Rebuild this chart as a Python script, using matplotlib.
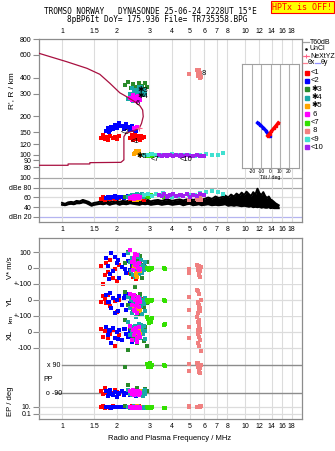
import numpy as np
import matplotlib.pyplot as plt
from matplotlib.lines import Line2D

plt.rcParams['font.family'] = ['Liberation Sans', 'DejaVu Sans']

## frequency axis
freq_ticks = [1, 1.5, 2, 3, 4, 5, 6, 7, 8, 10, 12, 14, 16, 18]
freq_labels = ['1', '1.5', '2', '3', '4', '5', '6', '7', '8', '10', '12', '14', '16', '18']
fmin, fmax = 0.749, 20.5

## N(h) profile
prof_f = [0.75, 1.06, 1.37, 1.61, 1.83, 2.07, 2.26, 2.50, 2.67, 2.76, 2.78, 2.72, 2.64, 2.45, 2.24, 2.18, 2.18, 2.18, 2.10, 1.42, 1.42, 1.08, 1.08, 0.75]
prof_h = [618, 532, 472, 424, 360, 304, 283, 259, 240, 223, 198, 175, 160, 153, 147, 138, 110, 91, 87, 86.5, 84.5, 84.5, 82.5, 82.5]

## echo groups: frequency / MHz, virtual height / km, amplitude / dB
red_f = [1.63, 1.67, 1.71, 1.75, 1.79, 1.84, 1.90, 1.95, 2.00, 2.05, 2.36, 2.41, 2.45, 2.49, 2.52, 2.55, 2.58, 2.62, 2.66, 2.70, 2.74, 2.80]
red_h = [136, 141, 133, 138, 131, 140, 135, 137, 132, 139, 134, 142, 130, 138, 145, 133, 140, 136, 131, 139, 134, 137]
red_a = [57, 60, 55, 58, 61, 56, 59, 57, 60, 58, 56, 59, 57, 61, 55, 58, 60, 56, 59, 57, 58, 55]
red_v = [14, -102, -44, 31, -23, 50, -60, -5, -80, 20, -30, 10, -55, 18, -12, -70, 5, -40, 25, -20, -8, 2]
red_yl = [-10, 25, 5, -20, 31, -35, 12, -5, -75, 0, -30, 10, -15, 20, -40, 5, -60, 15, -25, -8, 8, -18]
red_xl = [20, -30, 5, 31, -37, -10, 15, -87, 0, -20, 25, -40, 10, -15, 30, -5, -25, 12, -35, 5, -10, 18]
red_pp = [-75, -95, -60, -88, -100, -80, -92, -70, -85, -98, -90, -78, -95, -84, -70, -99, -88, -76, -93, -82, -90, -86]
red_ep = [10, 15, 7, 12, 10, 6, 18, 10, 8, 13, 10, 16, 7, 10, 12, 6, 10, 14, 8, 10, 12, 9]

blue_f = [1.74, 1.78, 1.82, 1.86, 1.90, 1.95, 2.00, 2.06, 2.12, 2.18, 2.24, 2.30, 2.36, 2.42, 2.48, 2.55, 1.80, 2.02, 2.20, 2.40]
blue_h = [152, 160, 156, 165, 158, 170, 162, 175, 166, 158, 172, 163, 155, 168, 160, 153, 150, 168, 161, 157]
blue_a = [58, 61, 59, 62, 60, 63, 58, 61, 62, 59, 60, 63, 61, 58, 62, 60, 59, 61, 62, 60]
blue_v = [60, 14, -40, 95, -20, 69, 30, -60, 5, 80, -30, 45, -10, 20, -45, 10, -70, 50, -5, 35]
blue_yl = [30, -10, 44, -50, 15, -81, 0, 25, -30, 10, -60, 35, -20, 5, -40, 20, -15, -70, 40, -5]
blue_xl = [31, -20, 10, -69, 25, -40, 0, 15, -50, 20, -10, -30, 5, -60, 28, -15, 8, -45, 18, -25]
blue_pp = [-80, -110, -71, -95, -100, -85, -116, -90, -78, -105, -92, -88, -100, -75, -95, -110, -84, -98, -90, -102]
blue_ep = [8, 12, 10, 7, 11, 9, 13, 10, 8, 12, 10, 9, 11, 7, 10, 12, 9, 10, 11, 8]

dg_f = [2.22, 2.30, 2.38, 2.44, 2.50, 2.56, 2.62, 2.68, 2.74, 2.80, 2.86, 2.92]
dg_h = [350, 370, 330, 355, 340, 318, 362, 335, 345, 325, 360, 338]
dg_a = [60, 62, 59, 63, 61, 64, 60, 62, 65, 61, 63, 60]
dg_v = [31, 100, -40, 10, -119, 55, -15, 75, -60, 20, -5, 40]
dg_yl = [50, -30, 10, -60, 25, -10, -85, 35, 0, -45, 15, -20]
dg_xl = [75, -112, 20, -40, 0, -70, 45, -20, 10, -55, 30, -90]
dg_pp = [77, -38, -85, -70, -95, -60, -88, -100, -75, -92, -65, -80]
dg_ep = [14, 10, 8, 12, 10, 18, 9, 11, 10, 13, 8, 10]

teal_f = [2.30, 2.34, 2.38, 2.42, 2.46, 2.50, 2.53, 2.56, 2.59, 2.62, 2.65, 2.68, 2.71, 2.74, 2.77, 2.80, 2.83, 2.86, 2.44, 2.60, 2.70, 2.52]
teal_h = [270, 300, 285, 330, 310, 295, 320, 305, 290, 335, 315, 300, 325, 308, 292, 318, 305, 298, 262, 280, 340, 312]
teal_a = [60, 64, 62, 66, 63, 65, 61, 67, 64, 62, 66, 63, 65, 68, 62, 64, 66, 63, 61, 65, 64, 62]
teal_v = [94, 40, -20, 60, 10, -56, 30, -10, 70, 0, -40, 20, 50, -30, 15, -15, 35, 5, -45, 80, -25, 25]
teal_yl = [19, -50, 0, -80, 10, -30, -106, -20, 5, -60, -10, 15, -40, -90, 0, -25, -70, 10, -15, -55, -35, 8]
teal_xl = [62, -20, 30, 0, -50, 40, 10, -30, 20, -10, 50, -40, 0, 25, -15, 35, -45, 5, 15, -25, 45, -5]
teal_pp = [-70, -95, -85, -100, -78, -90, -105, -82, -93, -75, -88, -98, -80, -92, -110, -86, -95, -72, -90, -84, -100, -88]
teal_ep = [10, 6, 12, 9, 14, 8, 10, 5, 11, 9, 13, 7, 10, 12, 8, 6, 10, 11, 9, 14, 7, 10]

or_f = [2.48, 2.53, 2.58, 2.62, 2.66, 2.55, 2.50, 2.64]
or_h = [101, 106, 103, 107, 100, 104, 102, 105]
or_a = [55, 57, 54, 56, 58, 55, 56, 57]
or_v = [5, -30, -55, 0, -20, -45, 10, -10]
or_yl = [-40, -60, -75, -50, -65, -45, -55, -70]
or_xl = [10, -5, 0, 15, -10, 5, -8, 12]
or_pp = [-75, -95, -85, -100, -80, -90, -88, -78]
or_ep = [12, 10, 14, 9, 11, 10, 13, 10]

mg_f = [2.36, 2.40, 2.44, 2.48, 2.52, 2.56, 2.60, 2.64, 2.68, 2.46, 2.58, 2.50, 2.62, 2.54]
mg_h = [275, 265, 290, 270, 282, 260, 288, 272, 266, 160, 163, 280, 278, 262]
mg_a = [58, 62, 60, 64, 59, 61, 63, 60, 62, 57, 61, 63, 59, 60]
mg_v = [112, 40, -12, 60, 20, 80, 0, 30, -5, 50, 10, 90, -10, 25]
mg_yl = [40, -30, 10, -60, 0, -80, 20, -45, -10, 30, -20, -70, 5, -35]
mg_xl = [40, -50, 10, -20, 20, -60, 0, 30, -30, 15, -40, 5, -10, 25]
mg_pp = [-80, -95, -70, -100, -85, -90, -75, -105, -88, -92, -78, -96, -84, -90]
mg_ep = [8, 6, 9, 7, 5, 8, 6, 9, 7, 6, 8, 5, 7, 6]

lm_f = [2.92, 2.96, 3.00, 3.04, 3.08, 3.12, 3.62, 3.64]
lm_h = [98, 100, 97, 99, 101, 98, 100, 99]
lm_a = [63, 65, 62, 64, 66, 63, 60, 61]
lm_v = [0, -5, -12, 0, -8, 2, 0, -4]
lm_yl = [0, -10, -5, 2, -8, 0, 0, -6]
lm_xl = [94, 80, 56, 70, 65, 88, 44, 50]
lm_pp = [95, 80, 88, 100, 75, 90, 92, 85]
lm_ep = [8, 6, 7, 9, 6, 8, 5, 6]

sm_f = [4.95, 4.97, 5.50, 5.55, 5.60, 5.65, 5.70, 5.53, 5.58, 5.62, 5.68, 5.52, 5.57, 5.63, 5.75, 5.60]
sm_h = [430, 425, 460, 445, 455, 435, 420, 410, 440, 430, 400, 450, 415, 425, 405, 438]
sm_a = [54, 55, 57, 59, 56, 60, 58, 55, 57, 59, 56, 58, 60, 57, 55, 58]
sm_v = [-5, -30, 19, 10, 15, -20, 5, -10, -45, 0, -56, 12, -15, -35, 8, -25]
sm_yl = [-60, 20, 62, -10, -40, -60, -70, -81, 40, -30, -50, 55, -20, -65, 0, -45]
sm_xl = [-40, 30, 94, 60, 40, 20, 0, -10, -30, 75, -50, -70, 10, -90, -119, 50]
sm_pp = [50, 95, 103, 80, 60, 90, 70, 100, 45, 85, 38, 95, 75, 65, 88, 55]
sm_ep = [10, 14, 8, 12, 10, 16, 9, 11, 13, 10, 8, 12, 10, 9, 14, 11]

tq_f = [2.82, 2.95, 3.10, 3.25, 3.40, 3.55, 3.75, 4.00, 4.30, 4.60, 4.95, 5.30, 5.70, 6.10, 6.60, 7.10, 7.60]
tq_h = [100, 99, 101, 100, 98, 100, 99, 101, 100, 99, 100, 98, 100, 101, 99, 100, 103]
tq_a = [66, 68, 64, 67, 65, 69, 63, 62, 64, 63, 65, 66, 70, 72, 74, 71, 68]

pu_f = [3.40, 3.50, 3.62, 3.75, 3.90, 4.05, 4.20, 4.40, 4.60, 4.80, 5.00, 5.20, 5.45, 5.70, 5.95, 3.80, 4.50]
pu_h = [99, 98, 100, 97, 99, 98, 100, 97, 98, 99, 97, 98, 99, 98, 97, 100, 99]
pu_a = [66, 64, 68, 62, 65, 67, 63, 66, 64, 68, 62, 65, 63, 67, 66, 64, 65]

## background noise (dB)
noise_f = [1.00, 1.04, 1.08, 1.12, 1.16, 1.20, 1.25, 1.30, 1.35, 1.40, 1.45, 1.50,
           1.56, 1.62, 1.68, 1.75, 1.82, 1.90, 1.98, 2.06,
           2.15, 2.25, 2.35, 2.45, 2.55, 2.65, 2.75, 2.85, 2.95, 3.05,
           3.2, 3.35, 3.5, 3.65, 3.8,
           4.0, 4.2, 4.4, 4.6, 4.8, 5.0, 5.2, 5.4, 5.6, 5.8, 6.0,
           6.3, 6.6, 6.9, 7.2, 7.5, 7.8, 8.1, 8.4, 8.7, 9.0, 9.3, 9.6, 9.9,
           10.2, 10.5, 10.8, 11.1, 11.4, 11.7, 12.0, 12.3, 12.6, 12.9, 13.2, 13.5, 13.8, 14.1, 14.4, 14.7, 15.0, 15.3]
noise_hi = [49, 47, 50, 51, 50, 53, 52, 55, 53, 51, 47, 49,
            50, 52, 51, 53, 50, 52, 54, 51,
            53, 52, 55, 53, 54, 52, 56, 53, 55, 52,
            54, 55, 53, 55, 56,
            53, 55, 56, 54, 56, 57, 55, 56, 58, 56, 57,
            60, 57, 62, 59, 61, 64, 60, 66, 62, 68, 64, 70, 65,
            72, 67, 63, 71, 66, 78, 69, 65, 71, 63, 59, 62, 56, 54, 51, 48, 46, 44]
noise_lo = [45, 44, 46, 47, 46, 48, 48, 50, 49, 46, 43, 45,
            46, 47, 46, 48, 45, 47, 48, 45,
            47, 46, 48, 47, 46, 45, 47, 46, 47, 45,
            46, 47, 45, 46, 47,
            45, 46, 47, 44, 46, 47, 44, 45, 46, 44, 45,
            46, 44, 45, 44, 45, 46, 43, 44, 43, 44, 43, 42, 43,
            42, 41, 42, 40, 41, 40, 41, 39, 40, 39, 39, 40, 38, 39, 38, 38, 38, 38]

## tilt inset
tilt_x = [-3, -1, 1, 3.5, 6, 8.5]
tilt_xh = [140, 145, 152, 160, 168, 177]
tilt_y = [-14, -11, -8, -5, -3, -1]
tilt_yh = [177, 170, 162, 154, 146, 140]

c_red, c_blue, c_dg, c_teal = '#ff0000', '#0000ff', '#2a8a2a', '#1aa8a8'
c_or, c_mg, c_lm, c_sm = '#ffa500', '#ff00ff', '#33e000', '#f08080'
c_tq, c_pu = '#40e0d0', '#a020f0'
grey, light = '#8c8c8c', '#dcdcdc'

groups = [
    (c_red, red_f, red_h, red_a, red_v, red_yl, red_xl, red_pp, red_ep, '<1'),
    (c_blue, blue_f, blue_h, blue_a, blue_v, blue_yl, blue_xl, blue_pp, blue_ep, '<2'),
    (c_dg, dg_f, dg_h, dg_a, dg_v, dg_yl, dg_xl, dg_pp, dg_ep, '\u27313'),
    (c_teal, teal_f, teal_h, teal_a, teal_v, teal_yl, teal_xl, teal_pp, teal_ep, '\u27314'),
    (c_or, or_f, or_h, or_a, or_v, or_yl, or_xl, or_pp, or_ep, '\u27315'),
    (c_mg, mg_f, mg_h, mg_a, mg_v, mg_yl, mg_xl, mg_pp, mg_ep, ' 6'),
    (c_lm, lm_f, lm_h, lm_a, lm_v, lm_yl, lm_xl, lm_pp, lm_ep, '<7'),
    (c_sm, sm_f, sm_h, sm_a, sm_v, sm_yl, sm_xl, sm_pp, sm_ep, ' 8'),
    (c_tq, tq_f, tq_h, tq_a, None, None, None, None, None, '<9'),
    (c_pu, pu_f, pu_h, pu_a, None, None, None, None, None, '<10'),
]
MS = 7  # marker area for the echo squares

W, H = 335, 451


def box(x0, y0, x1, y1):
    return [x0 / W, 1 - y1 / H, (x1 - x0) / W, (y1 - y0) / H]


def fx(px):
    return px / W


def fy(py):
    return 1 - py / H


def freq_axis(ax):
    ax.set_xscale('log')
    ax.set_xlim(fmin, fmax)
    ax.set_xticks(freq_ticks)
    ax.set_xticklabels(freq_labels)
    ax.xaxis.set_minor_locator(plt.NullLocator())
    ax.grid(axis='x', color=light, lw=0.8, zorder=0)
    ax.tick_params(axis='x', length=0, labelsize=5, pad=3)
    ax.tick_params(axis='y', direction='out', length=4, color=grey, labelsize=5, pad=1.5, width=0.8)
    for s in ax.spines.values():
        s.set_color(grey)
        s.set_linewidth(0.9)


fig = plt.figure(figsize=(W / 100, H / 100), dpi=100)

## top panel: heights
ax = fig.add_axes(box(39, 39, 302, 170))
freq_axis(ax)
ax.set_yscale('log')
ax.set_ylim(75.8, 800)
ax.set_yticks([80, 90, 100, 120, 150, 200, 300, 400, 600, 800])
ax.set_yticklabels(['80', '90', '100', '120', '150', '200', '300', '400', '600', '800'])
ax.yaxis.set_minor_locator(plt.NullLocator())
ax.xaxis.tick_top()
ax.spines['bottom'].set_visible(False)
ax.plot(prof_f, prof_h, color='#a81040', lw=0.9, zorder=3)
ax.plot([2.62], [162], marker='+', color='#ff6088', ms=4, mew=0.8, zorder=4)
for c, f, h, a, v, yl, xl, pp, ep, lab in groups:
    ax.scatter(f, h, s=MS, marker='s', color=c, linewidths=0, zorder=2)
    if lab.strip() == '8':
        ax.text(max(f) * 1.01, np.median(h), lab.strip(), fontsize=5.5, ha='left', va='center', zorder=5)
    elif lab in ('<9',):
        continue
    else:
        ax.text(np.median(f), np.median(h) * 0.93, lab.strip(), fontsize=5.5, ha='left', va='center', zorder=5)

## amplitude panel
axa = fig.add_axes(box(39, 170, 302, 222))
freq_axis(axa)
axa.set_ylim(9.7, 116.4)
axa.set_yticks([20, 40, 60, 80, 100])
axa.set_yticklabels(['dBn 20', '40', '60', 'dBe 80', '100'])
axa.spines['top'].set_visible(False)
for lev, col in [(100, '#a8a8a8'), (80, '#a8a8a8'), (60, light), (40, light), (20, '#b4b4f0')]:
    axa.axhline(lev, color=col, lw=0.9, zorder=1)
axa.fill_between(noise_f, noise_lo, noise_hi, color='black', lw=0, zorder=2)
axa.plot(noise_f, noise_lo, color='black', lw=1.4, zorder=2)
axa.plot(noise_f, noise_hi, color='black', lw=1.4, zorder=2)
for c, f, h, a, v, yl, xl, pp, ep, lab in groups:
    axa.scatter(f, a, s=MS + 2, marker='s', color=c, linewidths=0, zorder=3)

## lower panel frame
axl = fig.add_axes(box(39, 238, 302, 419))
freq_axis(axl)
axl.set_ylim(0, 1)
axl.set_yticks([])


def sub(y0, y1, lo, hi, ticks, labels, log=False):
    a = fig.add_axes(box(39, y0, 302, y1))
    a.set_xscale('log')
    a.set_xlim(fmin, fmax)
    if log:
        a.set_yscale('log')
    a.set_ylim(lo, hi)
    a.patch.set_alpha(0)
    for s in a.spines.values():
        s.set_visible(False)
    a.set_xticks([])
    a.xaxis.set_minor_locator(plt.NullLocator())
    a.yaxis.set_minor_locator(plt.NullLocator())
    a.set_yticks(ticks)
    a.set_yticklabels(labels)
    a.tick_params(axis='y', direction='out', length=4, color=grey, labelsize=5, pad=1.5, width=0.8)
    return a


ax_v = sub(238, 284, -100, 187.5, [100, 0], ['100', '0'])
ax_yl = sub(284, 316, -100, 100, [100, 0], ['+-100', '0'])
ax_xl = sub(316, 356, -150, 100, [100, 0, -100], ['+-100', '0', '-100'])
ax_pp = sub(356, 400, -135, 147.9, [], [])
ax_ep = sub(400, 419, 0.0037, 1000, [10, 0.1], ['10.', '0.1'], log=True)

for a, levs in [(ax_v, [100, 0]), (ax_yl, [100, 0]), (ax_xl, [100, 0, -100]), (ax_ep, [10, 0.1])]:
    for lev in levs:
        a.axhline(lev, color=light, lw=0.9, zorder=0)
ax_pp.plot([1.0, fmax], [90, 90], color=grey, lw=1.0, zorder=1)
ax_pp.plot([0.92, fmax], [-90, -90], color=grey, lw=1.0, zorder=1)
ax_pp.text(0.825, 90, 'x 90', fontsize=5, ha='left', va='center')
ax_pp.text(0.815, -90, 'o -90', fontsize=5, ha='left', va='center')
ax_pp.text(0.79, 0, 'PP', fontsize=5, ha='left', va='center')

for c, f, h, a, v, yl, xl, pp, ep, lab in groups:
    if v is None:
        continue
    for axx, vals in [(ax_v, v), (ax_yl, yl), (ax_xl, xl), (ax_pp, pp), (ax_ep, ep)]:
        axx.scatter(f, vals, s=MS, marker='s', color=c, linewidths=0, zorder=3, clip_on=False)

## tilt inset
axt = fig.add_axes(box(242, 64, 299, 168))
axt.set_xlim(-31, 31)
axt.set_yscale('log')
axt.set_ylim(78.5, 511)
axt.set_yticks([])
axt.yaxis.set_minor_locator(plt.NullLocator())
axt.set_xticks([-20, -10, 0, 10, 20])
axt.set_xticklabels(['-20', '-10', '0', '10', '20'])
axt.tick_params(axis='x', length=0, labelsize=3.6, pad=0.8)
axt.grid(axis='x', color='#b0b0b0', lw=0.8)
for s in axt.spines.values():
    s.set_color('#a0a0a0')
    s.set_linewidth(0.8)
axt.set_xlabel('Tilt / deg', fontsize=3.8, labelpad=0.5)
axt.plot(tilt_y, tilt_yh, color=c_blue, lw=2.4, marker='s', ms=2)
axt.plot(tilt_x, tilt_xh, color=c_red, lw=2.4, marker='s', ms=2)

## axis labels
fig.text(fx(12), fy(91), "R', R / km", rotation=90, fontsize=6, ha='center', va='center')
fig.text(fx(10), fy(268), 'V* m/s', rotation=90, fontsize=5.5, ha='center', va='center')
fig.text(fx(10), fy(301), 'YL', rotation=90, fontsize=6, ha='center', va='center')
fig.text(fx(11), fy(319), 'km', rotation=90, fontsize=4.5, ha='center', va='center')
fig.text(fx(10), fy(335), 'XL', rotation=90, fontsize=6, ha='center', va='center')
fig.text(fx(11), fy(401), 'EP / deg', rotation=90, fontsize=5.5, ha='center', va='center')
fig.text(fx(170), fy(439), 'Radio and Plasma Frequency / MHz', fontsize=5.5, ha='center', va='center')

## title
fig.text(fx(150), fy(12), 'TROMSO NORWAY   DYNASONDE 25-06-24 2228UT 15\u00b0E',
         family='DejaVu Sans Mono', fontsize=5.6, ha='center', va='center')
fig.text(fx(157), fy(20), '8pBP6It DoY= 175.936 File= TR735358.BPG',
         family='DejaVu Sans Mono', fontsize=5.6, ha='center', va='center')
fig.text(fx(302.5), fy(7), 'HPTx is OFF!', family='DejaVu Sans Mono', fontsize=6, color='red',
         ha='center', va='center',
         bbox=dict(boxstyle='square,pad=0.15', facecolor='#ffff00', edgecolor='red', lw=0.8))

## legend
def leg_line(x0, x1, y, col):
    fig.add_artist(Line2D([fx(x0), fx(x1)], [fy(y), fy(y)], color=col, lw=0.9, transform=fig.transFigure))


leg_line(303, 309, 42, '#a0a0a0')
fig.text(fx(310), fy(42), 'T60dB', fontsize=5, va='center')
fig.add_artist(Line2D([fx(306)], [fy(49)], marker='s', ms=0.8, color='black', ls='none', transform=fig.transFigure))
fig.text(fx(310), fy(49), 'UnCl', fontsize=5, va='center')
leg_line(303, 309, 56, '#ff8090')
fig.add_artist(Line2D([fx(306)], [fy(56)], marker='+', ms=3, mew=0.7, color='#ff6088', ls='none', transform=fig.transFigure))
fig.text(fx(310), fy(56), 'NeXtYZ', fontsize=5, va='center')
leg_line(303, 307, 63, '#ff8090')
fig.text(fx(307.5), fy(63), '\u03b8x', fontsize=5, va='center')
leg_line(315, 320, 63, '#9090ff')
fig.text(fx(320.5), fy(63), '\u03b8y', fontsize=5, va='center')
for i, g in enumerate(groups):
    yy = 72.7 + i * 8.3
    fig.add_artist(Line2D([fx(307)], [fy(yy)], marker='s', ms=2.2, color=g[0], ls='none', transform=fig.transFigure))
    fig.text(fx(311), fy(yy), g[-1], fontsize=5.5, va='center')

fig.savefig('out.png', dpi=100)
